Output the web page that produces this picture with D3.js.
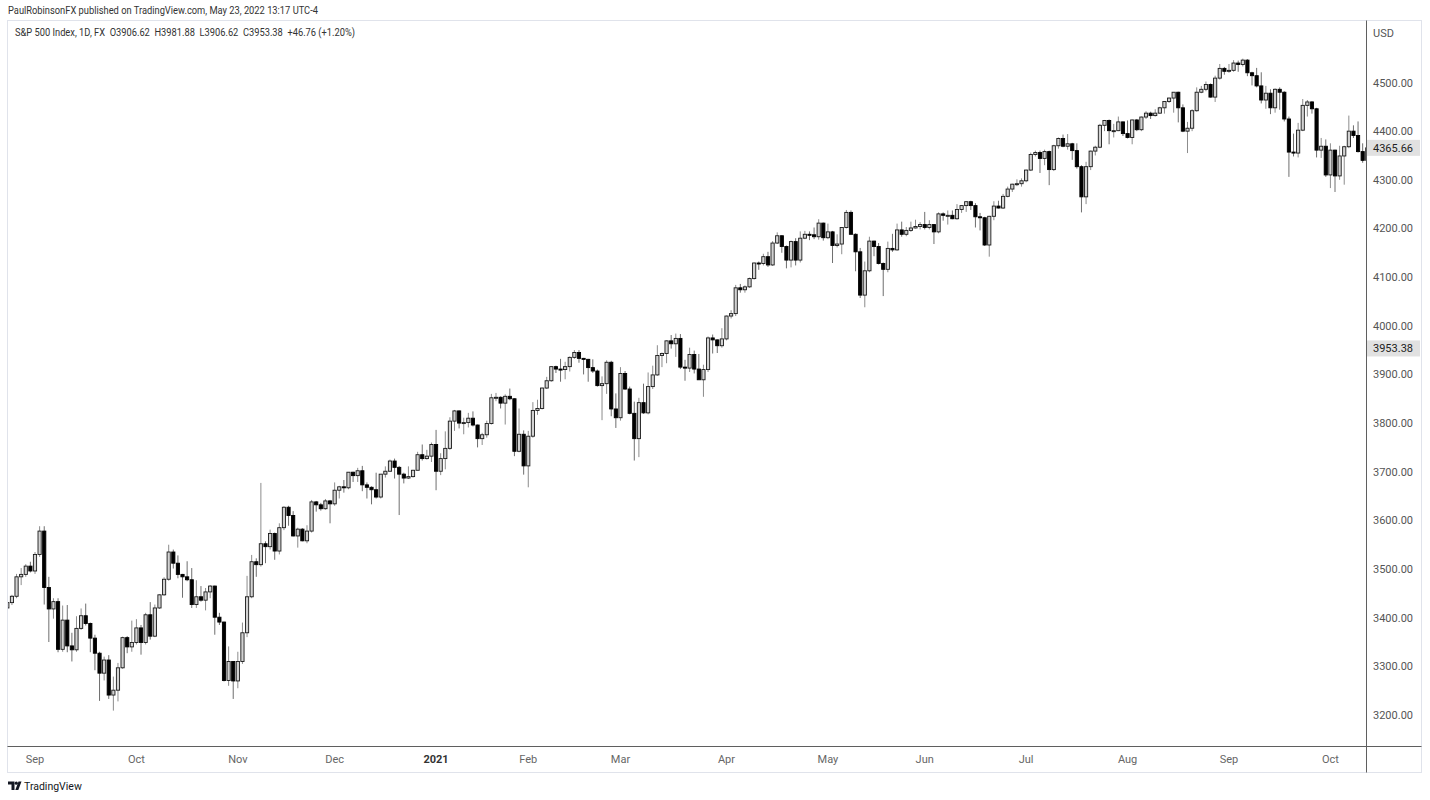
<!DOCTYPE html>
<html><head><meta charset="utf-8">
<script src="https://cdn.jsdelivr.net/npm/d3@7/dist/d3.min.js"></script>
<style>
html,body{margin:0;padding:0;background:#fff;}
svg{display:block;font-family:Roboto,"Noto Sans",sans-serif;}
</style></head><body>
<svg id="chart" width="1430" height="800"></svg>
<script>
// trading sessions (FX feed, includes US half-holiday sessions)
const sessions = [
 "2020-08:24,25,26,27,28,31",
 "2020-09:1,2,3,4,7,8,9,10,11,14,15,16,17,18,21,22,23,24,25,28,29,30",
 "2020-10:1,2,5,6,7,8,9,12,13,14,15,16,19,20,21,22,23,26,27,28,29,30",
 "2020-11:2,3,4,5,6,9,10,11,12,13,16,17,18,19,20,23,24,25,26,27,30",
 "2020-12:1,2,3,4,7,8,9,10,11,14,15,16,17,18,21,22,23,24,28,29,30,31",
 "2021-01:4,5,6,7,8,11,12,13,14,15,18,19,20,21,22,25,26,27,28,29",
 "2021-02:1,2,3,4,5,8,9,10,11,12,15,16,17,18,19,22,23,24,25,26",
 "2021-03:1,2,3,4,5,8,9,10,11,12,15,16,17,18,19,22,23,24,25,26,29,30,31",
 "2021-04:1,2,5,6,7,8,9,12,13,14,15,16,19,20,21,22,23,26,27,28,29,30",
 "2021-05:3,4,5,6,7,10,11,12,13,14,17,18,19,20,21,24,25,26,27,28,31",
 "2021-06:1,2,3,4,7,8,9,10,11,14,15,16,17,18,21,22,23,24,25,28,29,30",
 "2021-07:1,2,5,6,7,8,9,12,13,14,15,16,19,20,21,22,23,26,27,28,29,30",
 "2021-08:2,3,4,5,6,9,10,11,12,13,16,17,18,19,20,23,24,25,26,27,30,31",
 "2021-09:1,2,3,6,7,8,9,10,13,14,15,16,17,20,21,22,23,24,27,28,29,30",
 "2021-10:1,4,5,6,7,8,11,12,13"
];

const open = [
 3420,3431,3444,3484,3489,3506,
 3496,3530,3578,3462,3418,3433,3335,3395,3342,3334,3378,3404,3388,3358,3327,3286,3313,3241,3251,3297,3359,3340,
 3349,3379,3349,3406,3362,3420,3447,3479,3535,3512,3489,3484,3478,3427,3443,3436,3453,3465,3401,3391,3271,3310,
 3270,3310,3369,3443,3515,3509,3552,3546,3573,3537,3585,3627,3610,3568,3582,3558,3578,3638,3632,3624,3640,
 3634,3662,3669,3667,3699,3692,3702,3673,3668,3663,3648,3695,3701,3722,3709,3695,3687,3690,3703,3735,3727,3732,
 3756,3701,3727,3748,3804,3825,3800,3801,3810,3796,3768,3776,3799,3852,3853,3841,3855,3850,3742,3777,
 3712,3773,3826,3830,3872,3887,3916,3911,3910,3916,3935,3945,3933,3931,3914,3907,3877,3881,3925,3829,
 3811,3902,3870,3820,3768,3842,3821,3875,3899,3939,3943,3969,3963,3974,3915,3913,3941,3911,3889,3910,3975,3971,3959,
 3973,4020,4025,4078,4074,4080,4097,4129,4128,4142,4125,4170,4185,4163,4135,4173,4135,4180,4188,4187,4183,4211,
 4181,4193,4165,4168,4202,4233,4188,4152,4063,4113,4174,4163,4128,4116,4159,4156,4197,4188,4196,4201,4204,
 4208,4202,4208,4193,4230,4227,4227,4220,4239,4247,4255,4247,4224,4222,4166,4225,4246,4242,4266,4281,4291,4292,
 4298,4320,4352,4356,4344,4358,4321,4370,4385,4369,4374,4360,4327,4265,4327,4359,4367,4412,4422,4401,4401,4419,
 4395,4387,4423,4403,4429,4437,4432,4437,4448,4461,4468,4480,4448,4400,4406,4442,4480,4486,4496,4470,4509,4529,
 4523,4525,4540,4537,4546,4520,4514,4493,4464,4478,4448,4486,4480,4425,4357,4355,4402,4453,4460,4446,4361,4369,
 4310,4361,4308,4349,4368,4400,4391,4358,4340
];
const high = [
 3432,3447,3490,3502,3510,3515,
 3535,3588,3588,3484,3440,3440,3425,3426,3369,3403,3419,3429,3390,3365,3330,3320,3323,3279,3307,3361,3362,3394,
 3397,3385,3410,3432,3427,3448,3483,3550,3540,3528,3490,3516,3502,3477,3465,3461,3467,3466,3410,3392,3341,3310,
 3330,3390,3486,3529,3522,3677,3557,3581,3575,3594,3629,3630,3619,3585,3584,3590,3642,3640,3636,3644,3642,
 3678,3671,3683,3699,3700,3708,3712,3678,3670,3698,3695,3711,3725,3727,3712,3698,3711,3704,3741,3756,3745,3760,
 3786,3738,3783,3812,3827,3826,3811,3821,3824,3797,3780,3805,3860,3862,3855,3859,3871,3851,3830,3785,
 3784,3843,3848,3873,3895,3916,3918,3932,3926,3937,3950,3950,3934,3932,3931,3910,3896,3929,3928,3861,
 3915,3907,3875,3844,3852,3881,3904,3918,3960,3945,3970,3981,3984,3983,3930,3955,3949,3942,3920,3978,3982,3972,3995,
 4021,4032,4084,4086,4083,4099,4130,4132,4148,4152,4174,4192,4186,4165,4175,4180,4194,4195,4194,4202,4219,4212,
 4210,4195,4188,4203,4238,4237,4190,4160,4132,4183,4175,4170,4130,4173,4189,4210,4214,4203,4214,4218,4213,
 4234,4217,4209,4233,4233,4237,4237,4250,4248,4256,4257,4252,4232,4224,4226,4256,4257,4271,4286,4292,4301,4303,
 4321,4356,4360,4360,4362,4360,4372,4387,4393,4394,4376,4375,4330,4337,4360,4370,4415,4423,4424,4415,4430,4420,
 4422,4424,4425,4430,4441,4440,4445,4450,4462,4469,4480,4481,4455,4419,4445,4490,4493,4502,4498,4514,4538,4532,
 4538,4546,4545,4549,4548,4522,4530,4521,4493,4486,4488,4490,4482,4430,4395,4417,4466,4464,4462,4448,4386,4383,
 4375,4362,4370,4370,4432,4412,4420,4375,4373
];
const low = [
 3413,3426,3440,3467,3484,3493,
 3490,3525,3427,3350,3398,3329,3330,3329,3310,3330,3375,3384,3329,3292,3229,3271,3233,3209,3228,3295,3327,3330,
 3345,3324,3345,3355,3360,3418,3445,3476,3501,3481,3441,3475,3420,3420,3433,3415,3440,3365,3385,3269,3260,3233,
 3255,3305,3360,3440,3484,3505,3512,3540,3519,3530,3580,3589,3567,3544,3557,3553,3575,3618,3620,3622,3594,
 3630,3645,3657,3664,3679,3679,3660,3645,3633,3645,3645,3688,3700,3686,3611,3676,3685,3688,3703,3723,3725,3720,
 3662,3693,3705,3745,3784,3789,3777,3791,3793,3750,3755,3770,3797,3845,3830,3797,3847,3732,3740,3694,
 3668,3770,3817,3828,3870,3885,3903,3885,3890,3906,3932,3924,3900,3885,3903,3875,3806,3860,3814,3790,
 3805,3868,3818,3723,3730,3819,3818,3870,3897,3915,3923,3953,3936,3911,3887,3905,3902,3889,3854,3905,3943,3944,3955,
 3970,4015,4020,4068,4068,4078,4095,4115,4124,4121,4123,4168,4150,4118,4120,4124,4130,4178,4176,4178,4177,4175,
 4178,4129,4161,4147,4200,4188,4112,4057,4038,4110,4143,4126,4061,4110,4152,4154,4183,4184,4193,4200,4198,
 4198,4198,4168,4190,4216,4208,4219,4218,4232,4234,4238,4202,4196,4164,4142,4217,4241,4240,4264,4275,4287,4286,
 4295,4318,4348,4314,4330,4289,4318,4364,4367,4362,4341,4323,4233,4250,4320,4350,4365,4400,4373,4387,4400,4390,
 4385,4373,4400,4400,4425,4425,4430,4436,4436,4458,4438,4418,4398,4355,4400,4440,4478,4482,4469,4460,4506,4516,
 4520,4522,4522,4533,4513,4494,4490,4457,4446,4435,4438,4444,4420,4306,4348,4346,4400,4430,4436,4346,4345,4306,
 4283,4275,4300,4290,4365,4386,4356,4335,4322
];
const close = [
 3431,3444,3484,3489,3506,3496,
 3530,3578,3462,3418,3433,3335,3395,3342,3334,3378,3404,3388,3358,3327,3286,3313,3241,3251,3297,3359,3340,3349,
 3379,3349,3406,3362,3420,3447,3479,3535,3512,3489,3484,3478,3427,3443,3436,3453,3465,3401,3391,3271,3310,3270,
 3310,3369,3443,3515,3509,3552,3546,3573,3537,3585,3627,3610,3568,3582,3558,3578,3638,3632,3624,3640,3634,
 3662,3669,3667,3699,3692,3702,3673,3668,3663,3648,3695,3701,3722,3709,3695,3687,3690,3703,3735,3727,3732,3756,
 3701,3727,3748,3804,3825,3800,3801,3810,3796,3768,3776,3799,3852,3853,3841,3855,3850,3742,3777,3712,
 3773,3826,3830,3872,3887,3916,3911,3910,3916,3935,3945,3933,3931,3914,3907,3877,3881,3925,3829,3811,
 3902,3870,3820,3768,3842,3821,3875,3899,3939,3943,3969,3963,3974,3915,3913,3941,3911,3889,3910,3975,3971,3959,3973,
 4020,4025,4078,4074,4080,4097,4129,4128,4142,4125,4170,4185,4163,4135,4173,4135,4180,4188,4187,4183,4211,4181,
 4193,4165,4168,4202,4233,4188,4152,4063,4113,4174,4163,4128,4116,4159,4156,4197,4188,4196,4201,4204,4208,
 4202,4208,4193,4230,4227,4227,4220,4239,4247,4255,4247,4224,4222,4166,4225,4246,4242,4266,4281,4291,4292,4298,
 4320,4352,4356,4344,4358,4321,4370,4385,4369,4374,4360,4327,4265,4327,4359,4367,4412,4422,4401,4401,4419,4395,
 4387,4423,4403,4429,4437,4432,4437,4448,4461,4468,4480,4448,4400,4406,4442,4480,4486,4496,4470,4509,4529,4523,
 4525,4540,4537,4546,4520,4514,4493,4464,4478,4448,4486,4480,4425,4357,4355,4402,4453,4460,4446,4361,4369,4310,
 4361,4308,4349,4368,4400,4391,4358,4340,4365.66
];

const priceTicks = [3200,3300,3400,3500,3600,3700,3800,3900,4000,4100,4200,4300,4400,4500];
const monthLabels = ["Sep","Oct","Nov","Dec","2021","Feb","Mar","Apr","May","Jun","Jul","Aug","Sep","Oct"];
const markerPrices = [4365.66, 3953.38];
const headerText = "PaulRobinsonFX published on TradingView.com, May 23, 2022 13:17 UTC-4";
const legendText = "S&P 500 Index, 1D, FX  O3906.62  H3981.88  L3906.62  C3953.38  +46.76 (+1.20%)";

// ---------- build ----------
const dates = sessions.flatMap(s => {
  const [ym, days] = s.split(":");
  return days.split(",").map(d => ym + "-" + d.padStart(2, "0"));
});
const bars = dates.map((d, i) => ({i, d, o: open[i], h: high[i], l: low[i], c: close[i]}));

// month starts (first session of each month, after the partial first month)
const monthStarts = [];
dates.forEach((d, i) => { if (i > 0 && d.slice(0, 7) !== dates[i - 1].slice(0, 7)) monthStarts.push(i); });

const W = 1430, H = 800;
const plot = {left: 8, right: 1366, top: 20, bottom: 746};
const svg = d3.select("#chart");

const x = d3.scaleLinear()
  .domain([monthStarts[0], monthStarts[monthStarts.length - 1]])
  .range([35, 1330.4]);
const y = d3.scaleLinear().domain([3200, 4500]).range([715, 82.5]);

svg.append("rect").attr("width", W).attr("height", H).attr("fill", "#fff");

svg.append("defs").append("clipPath").attr("id", "plotclip")
  .append("rect").attr("x", plot.left).attr("y", plot.top)
  .attr("width", plot.right - plot.left).attr("height", plot.bottom - plot.top);

// outer frame
svg.append("rect").attr("x", 7.5).attr("y", 20.5).attr("width", 1414).attr("height", 752)
  .attr("fill", "none").attr("stroke", "#e0e3eb").attr("stroke-width", 1);

const g = svg.append("g").attr("clip-path", "url(#plotclip)");

// wicks
g.selectAll("line.wick").data(bars).join("line").attr("class", "wick")
  .attr("x1", d => x(d.i)).attr("x2", d => x(d.i))
  .attr("y1", d => y(d.h)).attr("y2", d => y(d.l))
  .attr("stroke", d => d.c >= d.o ? "#8c8c8c" : "#6e6e6e").attr("stroke-width", 1);

// bodies
const bw = 3.2;
g.selectAll("rect.body").data(bars).join("rect").attr("class", "body")
  .attr("x", d => x(d.i) - bw / 2)
  .attr("width", bw)
  .attr("y", d => y(Math.max(d.o, d.c)))
  .attr("height", d => Math.max(1, Math.abs(y(d.o) - y(d.c))))
  .attr("fill", d => d.c >= d.o ? "#d2d2d2" : "#000")
  .attr("stroke", d => d.c >= d.o ? "#1a1a1a" : "#000")
  .attr("stroke-width", 0.9);

// axis lines
svg.append("line").attr("x1", 1366.5).attr("x2", 1366.5).attr("y1", 20.5).attr("y2", 772.5)
  .attr("stroke", "#5f5f5f").attr("stroke-width", 1);
svg.append("line").attr("x1", 7.5).attr("x2", 1421.5).attr("y1", 746.5).attr("y2", 746.5)
  .attr("stroke", "#5f5f5f").attr("stroke-width", 1);

// price axis labels
svg.append("g").selectAll("text").data(priceTicks).join("text")
  .attr("x", 1373).attr("y", d => y(d) + 4)
  .attr("font-size", 11).attr("fill", "#555")
  .text(d3.format(".2f"));

svg.append("text").attr("x", 1373).attr("y", 37).attr("font-size", 11).attr("fill", "#555").text("USD");

// highlighted price markers
const mk = svg.append("g").selectAll("g").data(markerPrices).join("g");
mk.append("rect").attr("x", 1367).attr("y", d => y(d) - 8).attr("width", 53).attr("height", 16)
  .attr("fill", "#e1e1e1");
mk.append("text").attr("x", 1373).attr("y", d => y(d) + 4)
  .attr("font-size", 11).attr("fill", "#222").text(d3.format(".2f"));

// time axis labels
svg.append("g").selectAll("text").data(monthStarts).join("text")
  .attr("x", d => x(d)).attr("y", 763)
  .attr("text-anchor", "middle").attr("font-size", 11)
  .attr("font-weight", (d, k) => monthLabels[k] === "2021" ? "bold" : "normal")
  .attr("fill", (d, k) => monthLabels[k] === "2021" ? "#333" : "#666")
  .text((d, k) => monthLabels[k]);

// header & legend
svg.append("text").attr("x", 8).attr("y", 14).attr("font-size", 10.5).attr("fill", "#333")
  .attr("textLength", 310).attr("lengthAdjust", "spacingAndGlyphs").text(headerText);
svg.append("text").attr("x", 15).attr("y", 36).attr("font-size", 10).attr("fill", "#333")
  .attr("xml:space", "preserve")
  .attr("textLength", 340).attr("lengthAdjust", "spacingAndGlyphs").text(legendText);

// footer logo
const lg = svg.append("g").attr("fill", "#131722");
lg.append("path").attr("d", "M8,781.5 h6.5 v8.5 h-3 v-5.5 h-3.5 z");
lg.append("circle").attr("cx", 16.3).attr("cy", 783.2).attr("r", 1.6);
lg.append("path").attr("d", "M18.5,781.5 h3 l-3.2,8.5 h-3 z");
svg.append("text").attr("x", 24).attr("y", 790).attr("font-size", 10.5).attr("fill", "#131722")
  .text("TradingView");
</script>
</body></html>
